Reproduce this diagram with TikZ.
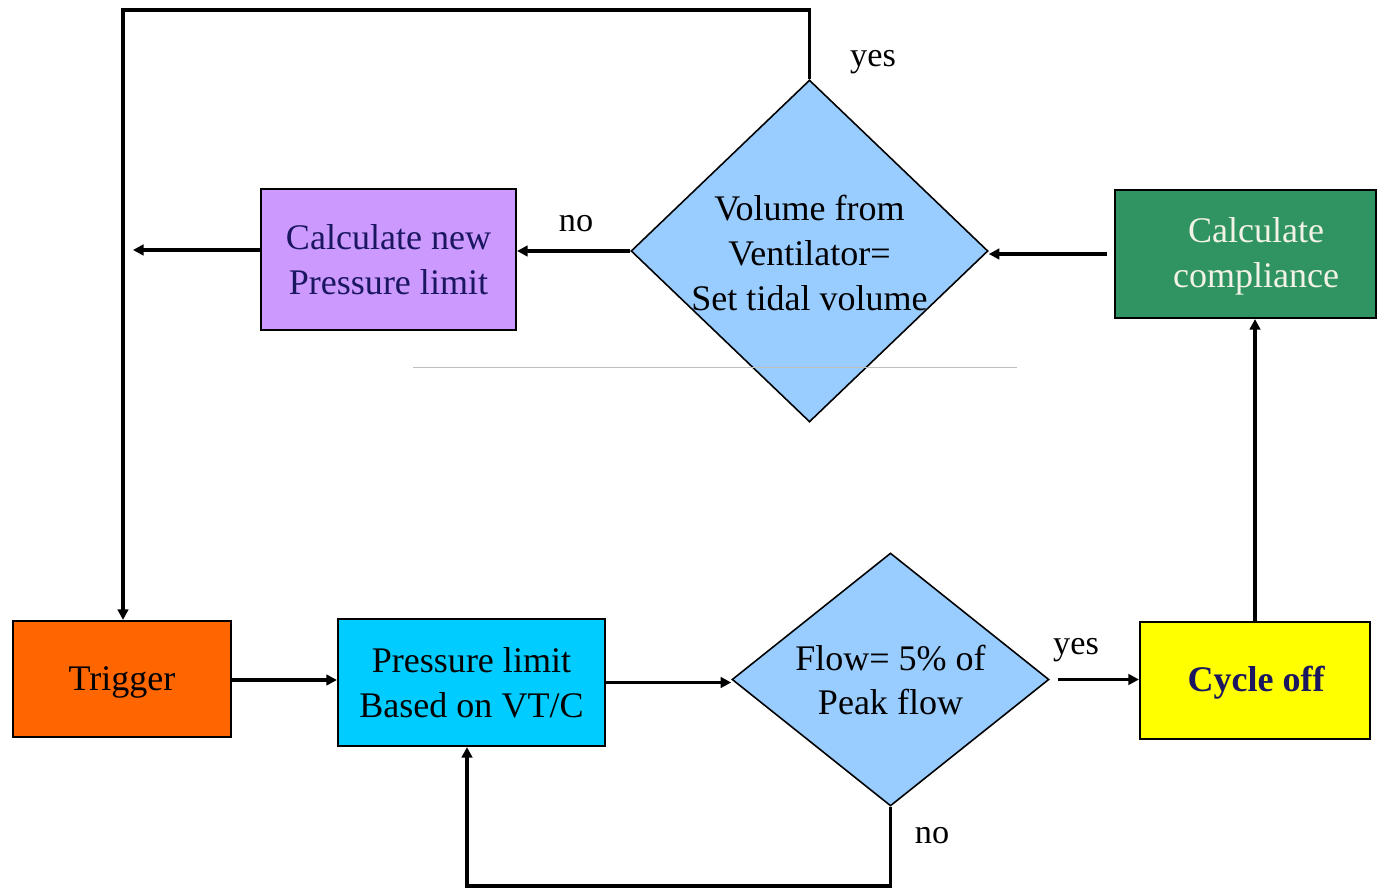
\documentclass[tikz,border=0pt]{standalone}
\usepackage{fontspec}
\setmainfont{Liberation Serif}
\usetikzlibrary{arrows.meta,shapes.geometric,calc}
\def\pxu{0.02cm}
\newcommand\mainfs{\fontsize{20.5}{25.5}\selectfont}
\newcommand\lblfs{\fontsize{19.5}{23}\selectfont}
\definecolor{orangeT}{HTML}{FF6600}
\definecolor{cyanP}{HTML}{00CCFF}
\definecolor{diablue}{HTML}{99CCFF}
\definecolor{yellowC}{HTML}{FFFF00}
\definecolor{greenC}{HTML}{2F9462}
\definecolor{purpleN}{HTML}{CC99FF}
\definecolor{navyT}{HTML}{1A1660}
\definecolor{lightT}{HTML}{F2F2E6}
\begin{document}
\begin{tikzpicture}[x=0.02cm,y=-0.02cm,
  box/.style={draw=black, line width=1.2pt, inner sep=0pt, align=center, font=\mainfs},
  dia/.style={draw=black, line width=0.9pt, diamond, inner sep=0pt, fill=diablue},
  txt/.style={align=center, font=\mainfs, inner sep=0pt},
  conn/.style={line width=2pt},
  arr/.style={conn, -{Triangle[length=6pt,width=6pt]}},
  lbl/.style={font=\lblfs, inner sep=0pt}]
\useasboundingbox (0,0) rectangle (1377,888);

% boxes
\node[box, fill=orangeT, minimum width=218*\pxu, minimum height=116*\pxu] (trig) at (122,679) {};
\node[txt] (trigtxt) at (122,682) {Trigger};
\node[box, fill=cyanP, minimum width=267*\pxu, minimum height=127*\pxu] (pl) at (471.5,682.5) {Pressure limit\\Based on VT/C};
\node[dia, minimum width=317*\pxu, minimum height=253*\pxu] (flow) at (890.5,679.5) {};
\node[txt] (flowtxt) at (890.5,680) {Flow= 5\% of\\Peak flow};
\node[box, fill=yellowC, minimum width=230*\pxu, minimum height=117*\pxu] (co) at (1255,680.5) {};
\node[txt, text=navyT, font=\mainfs\bfseries] (cotxt) at (1256,683) {Cycle off};
\node[box, fill=greenC, minimum width=261*\pxu, minimum height=128*\pxu] (comp) at (1245.5,254) {};
\node[txt, text=lightT] (comptxt) at (1256,256) {Calculate\\compliance};
\node[dia, minimum width=357*\pxu, minimum height=342*\pxu] (vol) at (809.5,251) {};
\node[txt] (voltxt) at (809.5,253) {Volume from\\Ventilator=\\Set tidal volume};
\node[box, fill=purpleN, minimum width=255*\pxu, minimum height=141*\pxu, text=navyT] (cn) at (388.5,259.5) {Calculate new\\Pressure limit};

% coordinates
\coordinate (lout) at (133,250);
\coordinate (ytop) at (809.5,10);
\coordinate (ltop) at (123,10);
\coordinate (fbot) at (890.5,886);
\coordinate (lbot) at (467,886);

% connectors
\draw[arr] (trig.east |- 0,680) -- (pl.west |- 0,680);
\draw[arr] (pl.east) -- (pl.east -| flow.west);
\draw[arr, shorten <=8*\pxu] (flow.east) -- (flow.east -| co.west);
\draw[arr] (co.north) -- (co.north |- comp.south);
\draw[arr, shorten <=7*\pxu] (comp.west) -- (comp.west -| vol.east);
\draw[arr] (vol.west) -- (vol.west -| cn.east);
\draw[arr] (cn.west |- lout) -- (lout);
\draw[arr] (vol.north) -- (ytop) -- (ltop) -- (ltop |- trig.north);
\draw[arr] (flow.south) -- (fbot) -- (lbot) -- (lbot |- pl.south);

% labels
\node[lbl] (yes1) at (873,62) {yes};
\node[lbl] (no1) at (576,224) {no};
\node[lbl] (yes2) at (1076,650) {yes};
\node[lbl] (no2) at (932,836) {no};

% faint rule
\draw[black!25, line width=0.5pt] (413,367) -- (1017,367);
\end{tikzpicture}
\end{document}
